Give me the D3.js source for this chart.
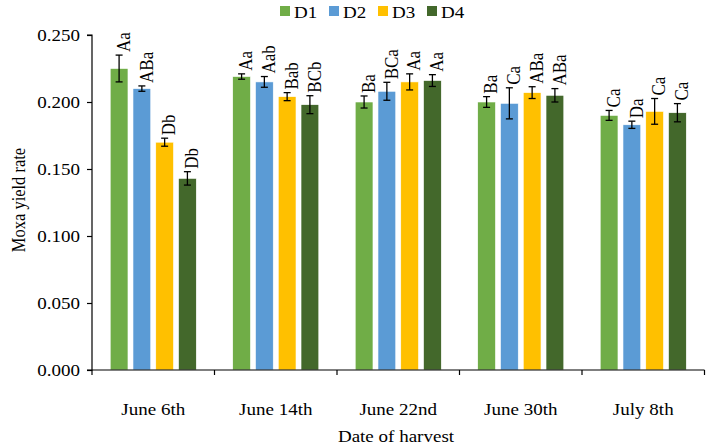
<!DOCTYPE html>
<html><head><meta charset="utf-8">
<script src="https://cdn.jsdelivr.net/npm/d3@7"></script>
<style>body{margin:0;background:#fff}svg{display:block}text{font-family:"Liberation Serif","Times New Roman",serif;fill:#000}</style>
</head><body><svg id="c" width="714" height="446"></svg>
<script>
const categories = ["June 6th","June 14th","June 22nd","June 30th","July 8th"];
const seriesNames = ["D1","D2","D3","D4"];
const colors = ["#70AD47","#5B9BD5","#FFC000","#43682B"];
const D1 = [0.225,0.219,0.200,0.200,0.190];
const D2 = [0.210,0.215,0.208,0.199,0.183];
const D3 = [0.170,0.204,0.215,0.207,0.193];
const D4 = [0.143,0.198,0.216,0.205,0.192];
const D1err = [0.010,0.002,0.0045,0.004,0.0037];
const D2err = [0.002,0.004,0.0067,0.0116,0.0027];
const D3err = [0.003,0.003,0.006,0.0044,0.0096];
const D4err = [0.005,0.0067,0.0044,0.005,0.0068];
const D1lab = ["Aa","Aa","Ba","Ba","Ca"];
const D2lab = ["ABa","Aab","BCa","Ca","Da"];
const D3lab = ["Db","Bab","Aa","ABa","Ca"];
const D4lab = ["Db","BCb","Aa","ABa","Ca"];
const yTicks = [0,0.05,0.10,0.15,0.20,0.25];

const SX = 1.12; // horizontal stretch of the original picture's text
const vals=[D1,D2,D3,D4], errs=[D1err,D2err,D3err,D4err], labs=[D1lab,D2lab,D3lab,D4lab];
const svg=d3.select("#c");
const x0=d3.scaleBand().domain(categories).range([92,704.5]).padding(0);
const x1=d3.scaleBand().domain(seriesNames).range([0,x0.bandwidth()]).paddingInner(0.22).paddingOuter(0.8);
const y=d3.scaleLinear().domain([0,0.25]).range([370,35]);

function htext(x,yy,str,size,anchor){
  return svg.append("text").attr("transform",`translate(${x},${yy}) scale(${SX},1)`)
    .attr("text-anchor",anchor||"middle").attr("font-size",size).text(str);
}

// bars
categories.forEach((c,i)=>{
  const g=svg.append("g").attr("transform",`translate(${x0(c)},0)`);
  seriesNames.forEach((s,j)=>{
    const v=vals[j][i], e=errs[j][i];
    const bx=x1(s), bw=x1.bandwidth(), cx=bx+bw/2;
    g.append("rect").attr("x",bx).attr("y",y(v)).attr("width",bw).attr("height",y(0)-y(v))
      .attr("fill",colors[j]).attr("stroke","#fff").attr("stroke-width",0.6);
    g.append("line").attr("x1",cx).attr("x2",cx).attr("y1",y(v+e)).attr("y2",y(v-e)).attr("stroke","#000").attr("stroke-width",1.3);
    [v+e,v-e].forEach(t=>g.append("line").attr("x1",cx-3.5).attr("x2",cx+3.5).attr("y1",y(t)).attr("y2",y(t)).attr("stroke","#000").attr("stroke-width",1.3));
    g.append("text").attr("transform",`translate(${cx+4},${y(v+e)-3}) scale(${SX},1) rotate(-90)`)
      .attr("text-anchor","start").attr("dy","0.35em").attr("font-size",17).text(labs[j][i]);
  });
});

// y axis
const ya=svg.append("g").attr("transform","translate(92,0)")
  .call(d3.axisLeft(y).tickValues(yTicks).tickFormat(d3.format(".3f")).tickSize(5).tickPadding(7));
ya.select(".domain").attr("stroke","#000").attr("stroke-width",1.2).attr("d","M-5,35H0V370H-5");
ya.selectAll("line").attr("stroke","#000").attr("stroke-width",1.2);
ya.selectAll(".tick text").each(function(){
  const t=d3.select(this); const tx=t.attr("x");
  t.attr("font-size",17).attr("font-family","Liberation Serif").attr("x",null)
   .attr("transform",`translate(${tx},0) scale(${SX},1)`);
});

// x axis
const xa=svg.append("g");
xa.append("line").attr("x1",92).attr("x2",704.5).attr("y1",370).attr("y2",370).attr("stroke","#000").attr("stroke-width",1.2);
xa.append("line").attr("x1",92).attr("x2",92).attr("y1",370).attr("y2",375).attr("stroke","#000").attr("stroke-width",1.2);
categories.forEach(c=>{
  const r=x0(c)+x0.bandwidth();
  xa.append("line").attr("x1",r).attr("x2",r).attr("y1",370).attr("y2",375).attr("stroke","#000").attr("stroke-width",1.2);
  htext(x0(c)+x0.bandwidth()/2,415,c,17);
});

// titles
htext(396,442,"Date of harvest",17);
svg.append("text").attr("transform",`translate(25,200) scale(${SX},1) rotate(-90)`).attr("text-anchor","middle").attr("font-size",16.5).text("Moxa yield rate");

// legend
const lx=[280,329,378,427];
seriesNames.forEach((s,j)=>{
  svg.append("rect").attr("x",lx[j]).attr("y",6).attr("width",10).attr("height",10).attr("fill",colors[j]);
  htext(lx[j]+14,18,s,17,"start");
});
</script></body></html>
